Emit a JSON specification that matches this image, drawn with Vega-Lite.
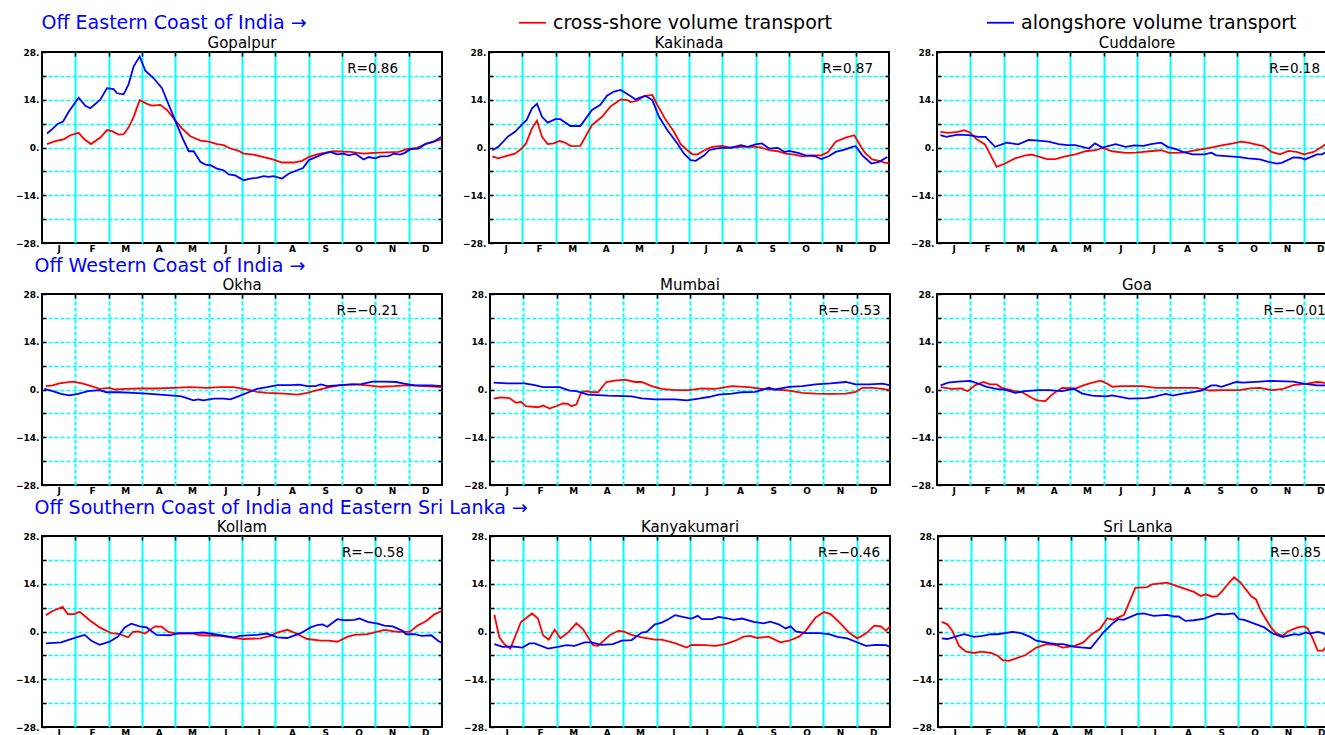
{
"$schema": "https://vega.github.io/schema/vega-lite/v6.json",
"padding": {"left": 14, "top": 8, "right": 0, "bottom": 0},
"background": "white",
"config": {
  "view": {"stroke": "black", "strokeWidth": 2},
  "title": {"font": "DejaVu Sans", "fontSize": 15, "fontWeight": "normal", "color": "black", "offset": -3},
  "axis": {"domain": false, "labelFont": "DejaVu Sans", "labelFontWeight": "bold", "labelFontSize": 9, "labelColor": "black", "tickColor": "black", "tickWidth": 1.5, "gridColor": "#00ffff", "labelOverlap": false, "labelFlush": false, "labelBound": false},
  "axisX": {"gridWidth": 2},
  "axisY": {"gridWidth": 1.5, "gridDash": [4, 2], "tickSize": -4, "labelPadding": 7},
  "axisTop": {"minExtent": 0, "maxExtent": 0},
  "axisRight": {"minExtent": 0, "maxExtent": 0},
  "legend": {"orient": "none", "legendX": 476, "legendY": -44, "direction": "horizontal", "columns": 2, "symbolType": "stroke", "symbolSize": 729, "symbolStrokeWidth": 3, "labelFont": "DejaVu Sans", "labelFontSize": 19, "labelColor": "black", "labelLimit": 400, "columnPadding": 150, "labelOffset": 6},
  "line": {"strokeWidth": 1.8}
},
"datasets": {
"gop": [
{"s":"c","m":0.15,"v":1.0},{"s":"c","m":0.35,"v":1.7},{"s":"c","m":0.55,"v":2.2},{"s":"c","m":0.65,"v":2.4},{"s":"c","m":0.85,"v":3.6},{"s":"c","m":1.1,"v":4.3},{"s":"c","m":1.27,"v":2.4},{"s":"c","m":1.47,"v":1.0},{"s":"c","m":1.75,"v":2.9},{"s":"c","m":1.95,"v":5.1},{"s":"c","m":2.1,"v":4.8},{"s":"c","m":2.3,"v":3.8},{"s":"c","m":2.45,"v":3.9},{"s":"c","m":2.6,"v":5.9},{"s":"c","m":2.75,"v":9.0},{"s":"c","m":2.93,"v":13.9},{"s":"c","m":3.15,"v":12.8},{"s":"c","m":3.3,"v":12.3},{"s":"c","m":3.55,"v":12.5},{"s":"c","m":3.75,"v":11.0},{"s":"c","m":3.95,"v":8.5},{"s":"c","m":4.2,"v":5.6},{"s":"c","m":4.45,"v":3.3},{"s":"c","m":4.75,"v":2.0},{"s":"c","m":5.0,"v":1.7},{"s":"c","m":5.25,"v":1.0},{"s":"c","m":5.45,"v":0.7},{"s":"c","m":5.65,"v":-0.3},{"s":"c","m":5.9,"v":-1.0},{"s":"c","m":6.05,"v":-1.8},{"s":"c","m":6.35,"v":-2.1},{"s":"c","m":6.65,"v":-2.8},{"s":"c","m":6.9,"v":-3.4},{"s":"c","m":7.2,"v":-4.4},{"s":"c","m":7.55,"v":-4.4},{"s":"c","m":7.8,"v":-3.9},{"s":"c","m":8.0,"v":-2.8},{"s":"c","m":8.25,"v":-2.0},{"s":"c","m":8.5,"v":-1.5},{"s":"c","m":8.75,"v":-1.1},{"s":"c","m":9.25,"v":-1.3},{"s":"c","m":9.65,"v":-1.8},{"s":"c","m":9.95,"v":-1.6},{"s":"c","m":10.35,"v":-1.4},{"s":"c","m":10.7,"v":-1.3},{"s":"c","m":10.95,"v":-0.5},{"s":"c","m":11.25,"v":-0.1},{"s":"c","m":11.55,"v":1.2},{"s":"c","m":11.75,"v":1.7},{"s":"c","m":11.97,"v":2.4},
{"s":"a","m":0.15,"v":4.1},{"s":"a","m":0.25,"v":4.9},{"s":"a","m":0.47,"v":6.9},{"s":"a","m":0.63,"v":7.6},{"s":"a","m":0.8,"v":10.5},{"s":"a","m":1.1,"v":14.6},{"s":"a","m":1.3,"v":12.2},{"s":"a","m":1.45,"v":11.5},{"s":"a","m":1.75,"v":14.0},{"s":"a","m":1.95,"v":17.4},{"s":"a","m":2.15,"v":17.1},{"s":"a","m":2.25,"v":15.9},{"s":"a","m":2.45,"v":15.6},{"s":"a","m":2.6,"v":18.6},{"s":"a","m":2.75,"v":23.8},{"s":"a","m":2.93,"v":26.7},{"s":"a","m":3.1,"v":22.5},{"s":"a","m":3.35,"v":20.3},{"s":"a","m":3.6,"v":17.4},{"s":"a","m":3.95,"v":9.0},{"s":"a","m":4.2,"v":3.1},{"s":"a","m":4.4,"v":-1.1},{"s":"a","m":4.55,"v":-1.1},{"s":"a","m":4.75,"v":-4.2},{"s":"a","m":4.9,"v":-5.0},{"s":"a","m":5.05,"v":-5.2},{"s":"a","m":5.25,"v":-6.2},{"s":"a","m":5.45,"v":-6.7},{"s":"a","m":5.6,"v":-7.9},{"s":"a","m":5.8,"v":-8.2},{"s":"a","m":6.05,"v":-9.6},{"s":"a","m":6.25,"v":-9.1},{"s":"a","m":6.45,"v":-8.9},{"s":"a","m":6.65,"v":-8.4},{"s":"a","m":6.8,"v":-8.6},{"s":"a","m":6.95,"v":-8.4},{"s":"a","m":7.2,"v":-9.1},{"s":"a","m":7.4,"v":-7.7},{"s":"a","m":7.6,"v":-6.9},{"s":"a","m":7.83,"v":-6.0},{"s":"a","m":8.0,"v":-3.7},{"s":"a","m":8.2,"v":-2.9},{"s":"a","m":8.4,"v":-2.0},{"s":"a","m":8.65,"v":-1.3},{"s":"a","m":8.85,"v":-2.0},{"s":"a","m":9.05,"v":-1.8},{"s":"a","m":9.2,"v":-2.3},{"s":"a","m":9.4,"v":-1.8},{"s":"a","m":9.65,"v":-3.5},{"s":"a","m":9.8,"v":-2.8},{"s":"a","m":10.0,"v":-3.2},{"s":"a","m":10.15,"v":-2.6},{"s":"a","m":10.4,"v":-2.5},{"s":"a","m":10.55,"v":-1.8},{"s":"a","m":10.75,"v":-2.1},{"s":"a","m":10.9,"v":-1.5},{"s":"a","m":11.05,"v":-0.5},{"s":"a","m":11.3,"v":-0.3},{"s":"a","m":11.5,"v":1.0},{"s":"a","m":11.75,"v":1.7},{"s":"a","m":11.97,"v":3.1}
],
"kak": [
{"s":"c","m":0.1,"v":-2.6},{"s":"c","m":0.28,"v":-3.2},{"s":"c","m":0.48,"v":-2.6},{"s":"c","m":0.78,"v":-1.8},{"s":"c","m":0.98,"v":-0.3},{"s":"c","m":1.11,"v":1.2},{"s":"c","m":1.29,"v":5.6},{"s":"c","m":1.44,"v":7.9},{"s":"c","m":1.59,"v":3.1},{"s":"c","m":1.76,"v":1.0},{"s":"c","m":1.94,"v":1.2},{"s":"c","m":2.12,"v":1.9},{"s":"c","m":2.29,"v":1.4},{"s":"c","m":2.46,"v":0.4},{"s":"c","m":2.74,"v":0.5},{"s":"c","m":2.89,"v":3.1},{"s":"c","m":3.09,"v":6.6},{"s":"c","m":3.39,"v":9.0},{"s":"c","m":3.64,"v":12.0},{"s":"c","m":3.95,"v":14.1},{"s":"c","m":4.15,"v":13.9},{"s":"c","m":4.25,"v":13.3},{"s":"c","m":4.45,"v":13.7},{"s":"c","m":4.65,"v":15.1},{"s":"c","m":4.9,"v":15.4},{"s":"c","m":5.05,"v":12.5},{"s":"c","m":5.3,"v":8.1},{"s":"c","m":5.55,"v":4.6},{"s":"c","m":5.75,"v":1.0},{"s":"c","m":5.95,"v":-0.8},{"s":"c","m":6.1,"v":-2.0},{"s":"c","m":6.26,"v":-2.0},{"s":"c","m":6.5,"v":-0.6},{"s":"c","m":6.7,"v":0.2},{"s":"c","m":7.0,"v":0.5},{"s":"c","m":7.26,"v":-0.1},{"s":"c","m":7.56,"v":0.2},{"s":"c","m":7.96,"v":0.2},{"s":"c","m":8.16,"v":0.0},{"s":"c","m":8.4,"v":-0.8},{"s":"c","m":8.66,"v":-1.1},{"s":"c","m":8.9,"v":-1.8},{"s":"c","m":9.17,"v":-2.1},{"s":"c","m":9.4,"v":-2.6},{"s":"c","m":9.67,"v":-2.3},{"s":"c","m":9.97,"v":-2.3},{"s":"c","m":10.17,"v":-1.3},{"s":"c","m":10.4,"v":1.7},{"s":"c","m":10.7,"v":2.9},{"s":"c","m":10.96,"v":3.6},{"s":"c","m":11.16,"v":0.2},{"s":"c","m":11.3,"v":-1.8},{"s":"c","m":11.5,"v":-3.5},{"s":"c","m":11.7,"v":-3.9},{"s":"c","m":11.9,"v":-4.5},{"s":"c","m":12.0,"v":-4.5},
{"s":"a","m":0.1,"v":-0.8},{"s":"a","m":0.28,"v":0.2},{"s":"a","m":0.58,"v":3.3},{"s":"a","m":0.78,"v":4.6},{"s":"a","m":0.98,"v":6.6},{"s":"a","m":1.13,"v":8.1},{"s":"a","m":1.29,"v":11.5},{"s":"a","m":1.44,"v":12.8},{"s":"a","m":1.59,"v":9.0},{"s":"a","m":1.76,"v":7.3},{"s":"a","m":1.99,"v":8.3},{"s":"a","m":2.14,"v":8.3},{"s":"a","m":2.44,"v":6.3},{"s":"a","m":2.74,"v":6.3},{"s":"a","m":3.09,"v":11.0},{"s":"a","m":3.34,"v":12.5},{"s":"a","m":3.54,"v":15.2},{"s":"a","m":3.75,"v":16.4},{"s":"a","m":3.95,"v":16.9},{"s":"a","m":4.15,"v":15.7},{"s":"a","m":4.4,"v":14.1},{"s":"a","m":4.55,"v":14.7},{"s":"a","m":4.7,"v":15.1},{"s":"a","m":4.9,"v":13.9},{"s":"a","m":5.1,"v":9.0},{"s":"a","m":5.35,"v":5.1},{"s":"a","m":5.65,"v":1.2},{"s":"a","m":5.85,"v":-1.8},{"s":"a","m":6.05,"v":-3.7},{"s":"a","m":6.2,"v":-3.9},{"s":"a","m":6.46,"v":-2.3},{"s":"a","m":6.6,"v":-0.8},{"s":"a","m":6.8,"v":-0.3},{"s":"a","m":7.0,"v":-0.1},{"s":"a","m":7.2,"v":-0.1},{"s":"a","m":7.36,"v":0.2},{"s":"a","m":7.56,"v":0.7},{"s":"a","m":7.76,"v":0.2},{"s":"a","m":8.0,"v":0.9},{"s":"a","m":8.19,"v":1.2},{"s":"a","m":8.4,"v":-0.3},{"s":"a","m":8.66,"v":-0.1},{"s":"a","m":8.87,"v":-1.3},{"s":"a","m":9.0,"v":-1.0},{"s":"a","m":9.27,"v":-1.6},{"s":"a","m":9.5,"v":-2.3},{"s":"a","m":9.77,"v":-2.5},{"s":"a","m":9.97,"v":-3.4},{"s":"a","m":10.2,"v":-2.5},{"s":"a","m":10.4,"v":-1.3},{"s":"a","m":10.67,"v":-0.6},{"s":"a","m":10.9,"v":0.2},{"s":"a","m":11.0,"v":0.4},{"s":"a","m":11.2,"v":-2.3},{"s":"a","m":11.47,"v":-4.7},{"s":"a","m":11.7,"v":-4.2},{"s":"a","m":11.95,"v":-2.8}
],
"cud": [
{"s":"c","m":0.1,"v":4.6},{"s":"c","m":0.33,"v":4.3},{"s":"c","m":0.63,"v":4.6},{"s":"c","m":0.81,"v":5.1},{"s":"c","m":0.99,"v":4.4},{"s":"c","m":1.19,"v":2.4},{"s":"c","m":1.44,"v":0.9},{"s":"c","m":1.79,"v":-5.7},{"s":"c","m":2.04,"v":-4.7},{"s":"c","m":2.34,"v":-3.2},{"s":"c","m":2.65,"v":-2.3},{"s":"c","m":2.85,"v":-2.1},{"s":"c","m":3.1,"v":-2.8},{"s":"c","m":3.3,"v":-3.4},{"s":"c","m":3.55,"v":-3.4},{"s":"c","m":3.85,"v":-2.6},{"s":"c","m":4.15,"v":-2.0},{"s":"c","m":4.46,"v":-1.1},{"s":"c","m":4.76,"v":-0.8},{"s":"c","m":4.96,"v":-0.1},{"s":"c","m":5.26,"v":-1.1},{"s":"c","m":5.66,"v":-1.6},{"s":"c","m":5.97,"v":-1.5},{"s":"c","m":6.37,"v":-1.1},{"s":"c","m":6.72,"v":-0.8},{"s":"c","m":6.97,"v":-1.6},{"s":"c","m":7.37,"v":-1.5},{"s":"c","m":7.78,"v":-0.8},{"s":"c","m":8.18,"v":-0.1},{"s":"c","m":8.58,"v":0.7},{"s":"c","m":8.88,"v":1.2},{"s":"c","m":9.13,"v":1.7},{"s":"c","m":9.33,"v":1.4},{"s":"c","m":9.79,"v":0.4},{"s":"c","m":10.04,"v":-1.3},{"s":"c","m":10.29,"v":-2.0},{"s":"c","m":10.54,"v":-1.0},{"s":"c","m":10.79,"v":-1.3},{"s":"c","m":11.01,"v":-2.0},{"s":"c","m":11.3,"v":-1.3},{"s":"c","m":11.55,"v":0.2},{"s":"c","m":11.75,"v":1.7},{"s":"c","m":12.0,"v":3.2},
{"s":"a","m":0.1,"v":3.6},{"s":"a","m":0.28,"v":3.1},{"s":"a","m":0.63,"v":3.8},{"s":"a","m":0.96,"v":3.6},{"s":"a","m":1.24,"v":3.1},{"s":"a","m":1.46,"v":3.1},{"s":"a","m":1.74,"v":0.2},{"s":"a","m":2.09,"v":1.4},{"s":"a","m":2.44,"v":0.9},{"s":"a","m":2.75,"v":2.2},{"s":"a","m":3.05,"v":2.0},{"s":"a","m":3.35,"v":1.7},{"s":"a","m":3.65,"v":1.0},{"s":"a","m":3.9,"v":0.7},{"s":"a","m":4.15,"v":0.7},{"s":"a","m":4.56,"v":-0.3},{"s":"a","m":4.74,"v":1.2},{"s":"a","m":4.96,"v":0.0},{"s":"a","m":5.36,"v":1.0},{"s":"a","m":5.66,"v":0.2},{"s":"a","m":5.92,"v":0.6},{"s":"a","m":6.2,"v":0.5},{"s":"a","m":6.42,"v":1.0},{"s":"a","m":6.72,"v":1.4},{"s":"a","m":6.92,"v":0.2},{"s":"a","m":7.17,"v":-0.5},{"s":"a","m":7.37,"v":-1.3},{"s":"a","m":7.67,"v":-2.0},{"s":"a","m":8.03,"v":-2.0},{"s":"a","m":8.23,"v":-1.5},{"s":"a","m":8.38,"v":-2.3},{"s":"a","m":8.78,"v":-2.6},{"s":"a","m":9.08,"v":-2.8},{"s":"a","m":9.33,"v":-3.2},{"s":"a","m":9.69,"v":-3.5},{"s":"a","m":9.94,"v":-4.2},{"s":"a","m":10.19,"v":-4.7},{"s":"a","m":10.34,"v":-4.5},{"s":"a","m":10.69,"v":-2.9},{"s":"a","m":10.89,"v":-3.0},{"s":"a","m":11.04,"v":-3.5},{"s":"a","m":11.4,"v":-2.0},{"s":"a","m":11.55,"v":-2.0},{"s":"a","m":11.75,"v":-0.8},{"s":"a","m":12.0,"v":0.2}
],
"okh": [
{"s":"c","m":0.12,"v":1.0},{"s":"c","m":0.32,"v":1.2},{"s":"c","m":0.52,"v":1.8},{"s":"c","m":0.92,"v":2.3},{"s":"c","m":1.23,"v":1.7},{"s":"c","m":1.48,"v":1.0},{"s":"c","m":1.73,"v":0.2},{"s":"c","m":2.03,"v":0.5},{"s":"c","m":2.18,"v":0.0},{"s":"c","m":2.53,"v":0.2},{"s":"c","m":2.93,"v":0.3},{"s":"c","m":3.44,"v":0.3},{"s":"c","m":3.94,"v":0.5},{"s":"c","m":4.44,"v":0.7},{"s":"c","m":4.94,"v":0.5},{"s":"c","m":5.35,"v":0.7},{"s":"c","m":5.75,"v":0.7},{"s":"c","m":6.15,"v":0.0},{"s":"c","m":6.45,"v":-0.7},{"s":"c","m":6.75,"v":-1.0},{"s":"c","m":7.26,"v":-1.2},{"s":"c","m":7.66,"v":-1.5},{"s":"c","m":7.96,"v":-1.0},{"s":"c","m":8.26,"v":-0.2},{"s":"c","m":8.66,"v":0.8},{"s":"c","m":8.96,"v":1.3},{"s":"c","m":9.37,"v":1.5},{"s":"c","m":9.77,"v":1.2},{"s":"c","m":10.17,"v":0.8},{"s":"c","m":10.57,"v":1.0},{"s":"c","m":10.97,"v":1.3},{"s":"c","m":11.48,"v":1.0},{"s":"c","m":12.0,"v":0.7},
{"s":"a","m":0.07,"v":0.2},{"s":"a","m":0.32,"v":-0.5},{"s":"a","m":0.57,"v":-1.3},{"s":"a","m":0.82,"v":-1.7},{"s":"a","m":1.08,"v":-1.3},{"s":"a","m":1.38,"v":-0.5},{"s":"a","m":1.73,"v":-0.2},{"s":"a","m":1.93,"v":-0.8},{"s":"a","m":2.33,"v":-0.8},{"s":"a","m":2.73,"v":-1.0},{"s":"a","m":3.14,"v":-1.2},{"s":"a","m":3.54,"v":-1.5},{"s":"a","m":3.94,"v":-1.8},{"s":"a","m":4.19,"v":-2.0},{"s":"a","m":4.54,"v":-3.2},{"s":"a","m":4.69,"v":-2.9},{"s":"a","m":4.84,"v":-3.2},{"s":"a","m":5.15,"v":-2.7},{"s":"a","m":5.45,"v":-2.7},{"s":"a","m":5.65,"v":-2.9},{"s":"a","m":5.95,"v":-1.8},{"s":"a","m":6.2,"v":-0.8},{"s":"a","m":6.45,"v":0.2},{"s":"a","m":6.75,"v":0.7},{"s":"a","m":7.06,"v":1.3},{"s":"a","m":7.46,"v":1.3},{"s":"a","m":7.71,"v":1.4},{"s":"a","m":7.96,"v":1.0},{"s":"a","m":8.21,"v":1.0},{"s":"a","m":8.36,"v":1.5},{"s":"a","m":8.56,"v":1.0},{"s":"a","m":8.86,"v":1.2},{"s":"a","m":9.27,"v":1.5},{"s":"a","m":9.57,"v":1.6},{"s":"a","m":9.92,"v":2.3},{"s":"a","m":10.27,"v":2.3},{"s":"a","m":10.62,"v":2.2},{"s":"a","m":10.87,"v":1.7},{"s":"a","m":11.18,"v":1.2},{"s":"a","m":11.68,"v":1.2},{"s":"a","m":12.0,"v":1.0}
],
"mum": [
{"s":"c","m":0.11,"v":-2.7},{"s":"c","m":0.33,"v":-2.3},{"s":"c","m":0.58,"v":-2.5},{"s":"c","m":0.78,"v":-3.9},{"s":"c","m":0.93,"v":-3.6},{"s":"c","m":1.08,"v":-4.9},{"s":"c","m":1.44,"v":-5.2},{"s":"c","m":1.59,"v":-4.7},{"s":"c","m":1.79,"v":-5.6},{"s":"c","m":2.04,"v":-4.7},{"s":"c","m":2.19,"v":-4.1},{"s":"c","m":2.34,"v":-4.2},{"s":"c","m":2.44,"v":-4.9},{"s":"c","m":2.59,"v":-4.4},{"s":"c","m":2.74,"v":-0.8},{"s":"c","m":2.89,"v":-0.5},{"s":"c","m":3.04,"v":-0.8},{"s":"c","m":3.24,"v":-0.8},{"s":"c","m":3.49,"v":2.2},{"s":"c","m":3.74,"v":2.6},{"s":"c","m":4.05,"v":2.9},{"s":"c","m":4.35,"v":2.2},{"s":"c","m":4.55,"v":2.2},{"s":"c","m":4.85,"v":1.0},{"s":"c","m":5.15,"v":0.2},{"s":"c","m":5.55,"v":-0.2},{"s":"c","m":5.95,"v":-0.2},{"s":"c","m":6.36,"v":0.3},{"s":"c","m":6.76,"v":0.2},{"s":"c","m":7.26,"v":1.0},{"s":"c","m":7.76,"v":0.7},{"s":"c","m":8.16,"v":0.2},{"s":"c","m":8.56,"v":0.0},{"s":"c","m":8.97,"v":-0.3},{"s":"c","m":9.37,"v":-1.0},{"s":"c","m":9.77,"v":-1.2},{"s":"c","m":10.22,"v":-1.3},{"s":"c","m":10.67,"v":-1.2},{"s":"c","m":10.97,"v":-0.7},{"s":"c","m":11.17,"v":0.5},{"s":"c","m":11.48,"v":0.5},{"s":"c","m":11.78,"v":0.2},{"s":"c","m":11.98,"v":-0.2},
{"s":"a","m":0.11,"v":2.0},{"s":"a","m":0.53,"v":1.8},{"s":"a","m":1.03,"v":1.8},{"s":"a","m":1.34,"v":1.3},{"s":"a","m":1.59,"v":0.7},{"s":"a","m":2.09,"v":0.7},{"s":"a","m":2.39,"v":-0.3},{"s":"a","m":2.59,"v":-0.5},{"s":"a","m":2.94,"v":-1.5},{"s":"a","m":3.54,"v":-1.8},{"s":"a","m":4.25,"v":-2.0},{"s":"a","m":4.55,"v":-2.6},{"s":"a","m":4.95,"v":-2.9},{"s":"a","m":5.55,"v":-2.9},{"s":"a","m":5.9,"v":-3.2},{"s":"a","m":6.26,"v":-2.7},{"s":"a","m":6.56,"v":-2.2},{"s":"a","m":6.86,"v":-1.5},{"s":"a","m":7.26,"v":-1.2},{"s":"a","m":7.56,"v":-0.8},{"s":"a","m":7.96,"v":-0.7},{"s":"a","m":8.36,"v":0.5},{"s":"a","m":8.56,"v":0.0},{"s":"a","m":8.97,"v":0.8},{"s":"a","m":9.37,"v":1.0},{"s":"a","m":9.77,"v":1.5},{"s":"a","m":10.22,"v":1.8},{"s":"a","m":10.67,"v":2.2},{"s":"a","m":10.97,"v":1.5},{"s":"a","m":11.38,"v":1.5},{"s":"a","m":11.78,"v":1.7},{"s":"a","m":11.98,"v":1.3}
],
"goa": [
{"s":"c","m":0.11,"v":0.7},{"s":"c","m":0.43,"v":0.2},{"s":"c","m":0.73,"v":0.3},{"s":"c","m":0.92,"v":-0.5},{"s":"c","m":1.14,"v":1.2},{"s":"c","m":1.39,"v":2.2},{"s":"c","m":1.59,"v":1.5},{"s":"c","m":1.79,"v":1.5},{"s":"c","m":1.94,"v":0.5},{"s":"c","m":2.34,"v":-0.5},{"s":"c","m":2.55,"v":-0.8},{"s":"c","m":2.85,"v":-2.5},{"s":"c","m":3.0,"v":-3.2},{"s":"c","m":3.25,"v":-3.4},{"s":"c","m":3.45,"v":-1.5},{"s":"c","m":3.75,"v":0.5},{"s":"c","m":4.15,"v":0.3},{"s":"c","m":4.41,"v":1.3},{"s":"c","m":4.66,"v":2.0},{"s":"c","m":4.91,"v":2.6},{"s":"c","m":5.11,"v":1.7},{"s":"c","m":5.26,"v":0.8},{"s":"c","m":5.56,"v":1.0},{"s":"c","m":6.17,"v":1.0},{"s":"c","m":6.57,"v":0.5},{"s":"c","m":7.17,"v":0.5},{"s":"c","m":7.78,"v":0.5},{"s":"c","m":8.18,"v":-0.3},{"s":"c","m":8.58,"v":-0.2},{"s":"c","m":9.08,"v":-0.2},{"s":"c","m":9.39,"v":0.3},{"s":"c","m":9.69,"v":0.5},{"s":"c","m":10.04,"v":-0.2},{"s":"c","m":10.39,"v":0.2},{"s":"c","m":10.69,"v":1.3},{"s":"c","m":11.1,"v":1.7},{"s":"c","m":11.4,"v":2.2},{"s":"c","m":11.6,"v":2.0},{"s":"c","m":11.75,"v":1.2},
{"s":"a","m":0.11,"v":1.2},{"s":"a","m":0.33,"v":2.0},{"s":"a","m":0.63,"v":2.3},{"s":"a","m":0.99,"v":2.5},{"s":"a","m":1.24,"v":1.7},{"s":"a","m":1.49,"v":0.8},{"s":"a","m":1.79,"v":0.2},{"s":"a","m":2.09,"v":-0.2},{"s":"a","m":2.34,"v":-1.0},{"s":"a","m":2.65,"v":-0.5},{"s":"a","m":3.05,"v":-0.2},{"s":"a","m":3.35,"v":-0.2},{"s":"a","m":3.75,"v":-0.5},{"s":"a","m":4.1,"v":0.2},{"s":"a","m":4.36,"v":-1.2},{"s":"a","m":4.66,"v":-1.8},{"s":"a","m":5.06,"v":-2.0},{"s":"a","m":5.26,"v":-1.7},{"s":"a","m":5.76,"v":-2.7},{"s":"a","m":6.27,"v":-2.5},{"s":"a","m":6.47,"v":-2.2},{"s":"a","m":6.67,"v":-1.7},{"s":"a","m":6.87,"v":-1.3},{"s":"a","m":7.07,"v":-1.8},{"s":"a","m":7.37,"v":-1.2},{"s":"a","m":7.68,"v":-0.8},{"s":"a","m":7.93,"v":-0.3},{"s":"a","m":8.23,"v":1.2},{"s":"a","m":8.38,"v":1.2},{"s":"a","m":8.53,"v":0.8},{"s":"a","m":8.98,"v":2.2},{"s":"a","m":9.18,"v":2.0},{"s":"a","m":9.69,"v":2.3},{"s":"a","m":9.99,"v":2.5},{"s":"a","m":10.69,"v":2.3},{"s":"a","m":10.99,"v":1.7},{"s":"a","m":11.4,"v":1.2},{"s":"a","m":11.75,"v":1.2}
],
"kol": [
{"s":"c","m":0.12,"v":4.8},{"s":"c","m":0.32,"v":6.0},{"s":"c","m":0.62,"v":7.2},{"s":"c","m":0.77,"v":5.1},{"s":"c","m":0.97,"v":5.1},{"s":"c","m":1.13,"v":5.8},{"s":"c","m":1.43,"v":3.3},{"s":"c","m":1.73,"v":1.2},{"s":"c","m":2.08,"v":-0.5},{"s":"c","m":2.33,"v":-0.8},{"s":"c","m":2.58,"v":-1.7},{"s":"c","m":2.73,"v":-0.1},{"s":"c","m":2.88,"v":0.0},{"s":"c","m":3.09,"v":-0.6},{"s":"c","m":3.39,"v":1.5},{"s":"c","m":3.59,"v":1.4},{"s":"c","m":3.79,"v":-0.1},{"s":"c","m":4.04,"v":-0.6},{"s":"c","m":4.54,"v":-0.6},{"s":"c","m":4.74,"v":-1.1},{"s":"c","m":5.35,"v":-1.3},{"s":"c","m":5.75,"v":-1.9},{"s":"c","m":6.05,"v":-2.2},{"s":"c","m":6.55,"v":-2.0},{"s":"c","m":6.85,"v":-1.3},{"s":"c","m":7.06,"v":-0.3},{"s":"c","m":7.36,"v":0.5},{"s":"c","m":7.56,"v":-0.3},{"s":"c","m":7.96,"v":-2.2},{"s":"c","m":8.36,"v":-2.7},{"s":"c","m":8.61,"v":-2.7},{"s":"c","m":8.86,"v":-3.0},{"s":"c","m":9.17,"v":-1.5},{"s":"c","m":9.37,"v":-1.0},{"s":"c","m":9.77,"v":-0.8},{"s":"c","m":10.27,"v":0.5},{"s":"c","m":10.67,"v":-0.1},{"s":"c","m":11.03,"v":-0.1},{"s":"c","m":11.28,"v":1.8},{"s":"c","m":11.53,"v":3.1},{"s":"c","m":11.78,"v":5.1},{"s":"c","m":12.0,"v":6.0},
{"s":"a","m":0.12,"v":-3.5},{"s":"a","m":0.57,"v":-3.2},{"s":"a","m":1.03,"v":-1.7},{"s":"a","m":1.28,"v":-1.0},{"s":"a","m":1.48,"v":-2.7},{"s":"a","m":1.73,"v":-3.9},{"s":"a","m":2.03,"v":-3.0},{"s":"a","m":2.28,"v":-1.5},{"s":"a","m":2.48,"v":1.2},{"s":"a","m":2.68,"v":2.3},{"s":"a","m":2.93,"v":1.5},{"s":"a","m":3.14,"v":1.2},{"s":"a","m":3.44,"v":-1.0},{"s":"a","m":3.84,"v":-1.1},{"s":"a","m":4.09,"v":-0.5},{"s":"a","m":4.54,"v":-0.5},{"s":"a","m":4.84,"v":-0.3},{"s":"a","m":5.35,"v":-1.1},{"s":"a","m":5.75,"v":-1.7},{"s":"a","m":5.95,"v":-1.3},{"s":"a","m":6.45,"v":-1.0},{"s":"a","m":6.75,"v":-0.6},{"s":"a","m":7.06,"v":-1.7},{"s":"a","m":7.36,"v":-1.9},{"s":"a","m":7.76,"v":-0.5},{"s":"a","m":8.06,"v":1.2},{"s":"a","m":8.26,"v":1.9},{"s":"a","m":8.41,"v":2.1},{"s":"a","m":8.56,"v":1.4},{"s":"a","m":8.86,"v":3.6},{"s":"a","m":9.07,"v":3.3},{"s":"a","m":9.37,"v":3.4},{"s":"a","m":9.52,"v":3.8},{"s":"a","m":9.77,"v":2.8},{"s":"a","m":10.07,"v":2.3},{"s":"a","m":10.27,"v":1.7},{"s":"a","m":10.52,"v":1.5},{"s":"a","m":10.82,"v":0.2},{"s":"a","m":10.92,"v":-0.8},{"s":"a","m":11.18,"v":-0.8},{"s":"a","m":11.38,"v":-1.3},{"s":"a","m":11.68,"v":-1.1},{"s":"a","m":11.88,"v":-2.7},{"s":"a","m":12.0,"v":-3.4}
],
"kan": [
{"s":"c","m":0.13,"v":4.9},{"s":"c","m":0.28,"v":-1.7},{"s":"c","m":0.43,"v":-3.7},{"s":"c","m":0.61,"v":-5.0},{"s":"c","m":0.93,"v":2.8},{"s":"c","m":1.26,"v":5.3},{"s":"c","m":1.44,"v":3.8},{"s":"c","m":1.59,"v":-1.1},{"s":"c","m":1.76,"v":-2.4},{"s":"c","m":1.94,"v":0.5},{"s":"c","m":2.11,"v":-2.0},{"s":"c","m":2.34,"v":-0.3},{"s":"c","m":2.59,"v":2.4},{"s":"c","m":2.79,"v":0.7},{"s":"c","m":3.09,"v":-4.0},{"s":"c","m":3.24,"v":-4.2},{"s":"c","m":3.59,"v":-1.1},{"s":"c","m":3.85,"v":0.2},{"s":"c","m":4.0,"v":0.0},{"s":"c","m":4.25,"v":-1.0},{"s":"c","m":4.55,"v":-1.7},{"s":"c","m":4.95,"v":-2.4},{"s":"c","m":5.15,"v":-2.4},{"s":"c","m":5.55,"v":-3.4},{"s":"c","m":5.9,"v":-4.7},{"s":"c","m":6.05,"v":-3.9},{"s":"c","m":6.46,"v":-4.0},{"s":"c","m":6.76,"v":-4.2},{"s":"c","m":7.06,"v":-3.7},{"s":"c","m":7.36,"v":-2.7},{"s":"c","m":7.61,"v":-1.5},{"s":"c","m":7.81,"v":-1.3},{"s":"c","m":8.01,"v":-1.9},{"s":"c","m":8.36,"v":-1.5},{"s":"c","m":8.71,"v":-3.2},{"s":"c","m":8.97,"v":-2.7},{"s":"c","m":9.27,"v":-1.5},{"s":"c","m":9.47,"v":0.2},{"s":"c","m":9.77,"v":4.1},{"s":"c","m":10.02,"v":5.7},{"s":"c","m":10.22,"v":5.1},{"s":"c","m":10.52,"v":2.3},{"s":"c","m":10.77,"v":-0.3},{"s":"c","m":11.02,"v":-2.0},{"s":"c","m":11.28,"v":-0.6},{"s":"c","m":11.53,"v":1.7},{"s":"c","m":11.73,"v":1.5},{"s":"c","m":11.88,"v":0.2},{"s":"c","m":12.0,"v":1.5},
{"s":"a","m":0.13,"v":-3.7},{"s":"a","m":0.38,"v":-4.5},{"s":"a","m":0.68,"v":-4.4},{"s":"a","m":0.98,"v":-4.7},{"s":"a","m":1.18,"v":-3.5},{"s":"a","m":1.34,"v":-3.5},{"s":"a","m":1.74,"v":-5.0},{"s":"a","m":2.04,"v":-4.5},{"s":"a","m":2.29,"v":-4.0},{"s":"a","m":2.54,"v":-4.2},{"s":"a","m":2.84,"v":-3.2},{"s":"a","m":3.04,"v":-3.2},{"s":"a","m":3.34,"v":-3.9},{"s":"a","m":3.69,"v":-3.7},{"s":"a","m":3.95,"v":-2.7},{"s":"a","m":4.25,"v":-2.5},{"s":"a","m":4.55,"v":-0.3},{"s":"a","m":4.7,"v":-0.1},{"s":"a","m":4.95,"v":2.1},{"s":"a","m":5.15,"v":2.6},{"s":"a","m":5.35,"v":3.6},{"s":"a","m":5.55,"v":4.8},{"s":"a","m":5.95,"v":3.9},{"s":"a","m":6.05,"v":3.8},{"s":"a","m":6.23,"v":4.6},{"s":"a","m":6.36,"v":3.6},{"s":"a","m":6.66,"v":3.6},{"s":"a","m":6.86,"v":4.3},{"s":"a","m":7.16,"v":3.8},{"s":"a","m":7.31,"v":3.4},{"s":"a","m":7.56,"v":3.8},{"s":"a","m":7.91,"v":2.8},{"s":"a","m":8.21,"v":2.4},{"s":"a","m":8.41,"v":2.9},{"s":"a","m":8.66,"v":2.1},{"s":"a","m":8.87,"v":0.9},{"s":"a","m":9.02,"v":1.5},{"s":"a","m":9.17,"v":0.0},{"s":"a","m":9.47,"v":-0.5},{"s":"a","m":9.87,"v":-0.5},{"s":"a","m":10.17,"v":-0.8},{"s":"a","m":10.42,"v":-1.6},{"s":"a","m":10.72,"v":-2.0},{"s":"a","m":10.97,"v":-3.0},{"s":"a","m":11.28,"v":-4.2},{"s":"a","m":11.58,"v":-3.9},{"s":"a","m":11.88,"v":-4.0},{"s":"a","m":12.0,"v":-4.5}
],
"sri": [
{"s":"c","m":0.11,"v":2.8},{"s":"c","m":0.28,"v":2.1},{"s":"c","m":0.43,"v":0.2},{"s":"c","m":0.63,"v":-4.2},{"s":"c","m":0.84,"v":-5.9},{"s":"c","m":1.09,"v":-6.3},{"s":"c","m":1.29,"v":-5.9},{"s":"c","m":1.59,"v":-6.3},{"s":"c","m":1.79,"v":-7.1},{"s":"c","m":1.94,"v":-8.4},{"s":"c","m":2.12,"v":-8.6},{"s":"c","m":2.34,"v":-7.9},{"s":"c","m":2.63,"v":-6.9},{"s":"c","m":2.95,"v":-4.7},{"s":"c","m":3.25,"v":-3.7},{"s":"c","m":3.55,"v":-4.0},{"s":"c","m":3.75,"v":-4.7},{"s":"c","m":4.1,"v":-4.2},{"s":"c","m":4.36,"v":-3.2},{"s":"c","m":4.61,"v":-0.8},{"s":"c","m":4.86,"v":0.7},{"s":"c","m":5.08,"v":3.9},{"s":"c","m":5.26,"v":3.4},{"s":"c","m":5.58,"v":4.9},{"s":"c","m":5.92,"v":12.8},{"s":"c","m":6.27,"v":13.0},{"s":"c","m":6.42,"v":13.8},{"s":"c","m":6.87,"v":14.3},{"s":"c","m":7.17,"v":13.3},{"s":"c","m":7.68,"v":11.6},{"s":"c","m":7.88,"v":10.4},{"s":"c","m":8.03,"v":10.9},{"s":"c","m":8.23,"v":10.2},{"s":"c","m":8.38,"v":10.4},{"s":"c","m":8.53,"v":11.9},{"s":"c","m":8.73,"v":14.3},{"s":"c","m":8.88,"v":15.9},{"s":"c","m":9.08,"v":14.3},{"s":"c","m":9.39,"v":10.4},{"s":"c","m":9.54,"v":9.4},{"s":"c","m":9.69,"v":6.0},{"s":"c","m":9.99,"v":1.2},{"s":"c","m":10.14,"v":-0.5},{"s":"c","m":10.34,"v":-1.3},{"s":"c","m":10.49,"v":0.0},{"s":"c","m":10.79,"v":1.2},{"s":"c","m":10.99,"v":1.5},{"s":"c","m":11.09,"v":0.9},{"s":"c","m":11.24,"v":-2.0},{"s":"c","m":11.39,"v":-5.6},{"s":"c","m":11.55,"v":-5.6},{"s":"c","m":11.75,"v":-3.0},
{"s":"a","m":0.11,"v":-2.0},{"s":"a","m":0.28,"v":-2.2},{"s":"a","m":0.53,"v":-1.5},{"s":"a","m":0.78,"v":-0.8},{"s":"a","m":1.09,"v":-1.6},{"s":"a","m":1.34,"v":-1.3},{"s":"a","m":1.59,"v":-0.8},{"s":"a","m":1.79,"v":-0.8},{"s":"a","m":2.24,"v":-0.1},{"s":"a","m":2.49,"v":-0.5},{"s":"a","m":2.75,"v":-1.5},{"s":"a","m":2.95,"v":-2.7},{"s":"a","m":3.35,"v":-3.4},{"s":"a","m":3.55,"v":-3.7},{"s":"a","m":3.75,"v":-3.7},{"s":"a","m":4.1,"v":-4.5},{"s":"a","m":4.36,"v":-4.7},{"s":"a","m":4.58,"v":-4.9},{"s":"a","m":4.96,"v":-0.3},{"s":"a","m":5.26,"v":2.6},{"s":"a","m":5.41,"v":3.6},{"s":"a","m":5.56,"v":3.4},{"s":"a","m":5.97,"v":5.1},{"s":"a","m":6.17,"v":5.3},{"s":"a","m":6.47,"v":4.6},{"s":"a","m":6.87,"v":4.9},{"s":"a","m":7.07,"v":4.4},{"s":"a","m":7.22,"v":4.4},{"s":"a","m":7.42,"v":3.1},{"s":"a","m":7.68,"v":3.3},{"s":"a","m":7.98,"v":3.8},{"s":"a","m":8.38,"v":5.2},{"s":"a","m":8.58,"v":5.0},{"s":"a","m":8.88,"v":5.3},{"s":"a","m":9.03,"v":3.6},{"s":"a","m":9.19,"v":3.4},{"s":"a","m":9.49,"v":2.3},{"s":"a","m":9.79,"v":1.2},{"s":"a","m":10.04,"v":-0.6},{"s":"a","m":10.34,"v":-1.6},{"s":"a","m":10.69,"v":-0.8},{"s":"a","m":10.84,"v":-1.0},{"s":"a","m":11.04,"v":-0.3},{"s":"a","m":11.14,"v":-0.6},{"s":"a","m":11.4,"v":-0.1},{"s":"a","m":11.55,"v":-0.5},{"s":"a","m":11.75,"v":-1.7}
]
},
"spacing": 3,
"vconcat": [
{"title": {"text": "Off Eastern Coast of India →", "anchor": "start", "color": "#0000ff", "fontSize": 19, "offset": 2, "dx": 27},
 "spacing": 15,
 "hconcat": [
  {"width": 400, "height": 191, "title": "Gopalpur",
   "layer": [
    {"data": {"name": "gop"}, "mark": {"type": "line"},
     "encoding": {
      "x": {"field": "m", "type": "quantitative", "scale": {"domain": [0, 12], "nice": false, "zero": false}, "axis": {"title": null, "grid": false, "ticks": false, "labelPadding": 1, "labelOverlap": false, "values": [0.5,1.5,2.5,3.5,4.5,5.5,6.5,7.5,8.5,9.5,10.5,11.5], "labelExpr": "['J','F','M','A','M','J','J','A','S','O','N','D'][floor(datum.value)]"}},
      "y": {"field": "v", "type": "quantitative", "scale": {"domain": [-28, 28], "nice": false}, "axis": {"title": null, "values": [-28,-21,-14,-7,0,7,14,21,28], "labelExpr": "datum.value % 14 ? '' : (datum.value < 0 ? '−' + (-datum.value) : datum.value) + '.'", "gridOpacity": {"condition": {"test": "abs(datum.value) == 28", "value": 0}, "value": 1}}},
      "color": {"field": "s", "type": "nominal", "scale": {"domain": ["c", "a"], "range": ["#ff0000", "#0000ff"]}, "legend": {"title": null, "labelExpr": "datum.value == 'c' ? 'cross-shore volume transport' : 'alongshore volume transport'"}}
     }},
    {"data": {"values": [{"r": "R=0.86"}]}, "mark": {"type": "text", "align": "right", "baseline": "middle", "font": "DejaVu Sans", "fontSize": 13.5, "color": "black"},
     "encoding": {"x": {"datum": 10.68, "type": "quantitative", "axis": {"orient": "top", "title": null, "values": [1,2,3,4,5,6,7,8,9,10,11], "labels": false, "grid": true, "tickSize": -4}}, "y": {"datum": 23, "type": "quantitative", "axis": {"orient": "right", "title": null, "values": [-21,-14,-7,0,7,14,21], "labels": false, "grid": false}}, "text": {"field": "r"}}}
   ],
   "resolve": {"axis": {"x": "independent", "y": "independent"}}
  },
  {"width": 400, "height": 191, "title": "Kakinada",
   "layer": [
    {"data": {"name": "kak"}, "mark": {"type": "line"},
     "encoding": {
      "x": {"field": "m", "type": "quantitative", "scale": {"domain": [0, 12], "nice": false, "zero": false}, "axis": {"title": null, "grid": false, "ticks": false, "labelPadding": 1, "labelOverlap": false, "values": [0.5,1.5,2.5,3.5,4.5,5.5,6.5,7.5,8.5,9.5,10.5,11.5], "labelExpr": "['J','F','M','A','M','J','J','A','S','O','N','D'][floor(datum.value)]"}},
      "y": {"field": "v", "type": "quantitative", "scale": {"domain": [-28, 28], "nice": false}, "axis": {"title": null, "values": [-28,-21,-14,-7,0,7,14,21,28], "labelExpr": "datum.value % 14 ? '' : (datum.value < 0 ? '−' + (-datum.value) : datum.value) + '.'", "gridOpacity": {"condition": {"test": "abs(datum.value) == 28", "value": 0}, "value": 1}}},
      "color": {"field": "s", "type": "nominal", "scale": {"domain": ["c", "a"], "range": ["#ff0000", "#0000ff"]}, "legend": {"title": null, "labelExpr": "datum.value == 'c' ? 'cross-shore volume transport' : 'alongshore volume transport'"}}
     }},
    {"data": {"values": [{"r": "R=0.87"}]}, "mark": {"type": "text", "align": "right", "baseline": "middle", "font": "DejaVu Sans", "fontSize": 13.5, "color": "black"},
     "encoding": {"x": {"datum": 11.52, "type": "quantitative", "axis": {"orient": "top", "title": null, "values": [1,2,3,4,5,6,7,8,9,10,11], "labels": false, "grid": true, "tickSize": -4}}, "y": {"datum": 23, "type": "quantitative", "axis": {"orient": "right", "title": null, "values": [-21,-14,-7,0,7,14,21], "labels": false, "grid": false}}, "text": {"field": "r"}}}
   ],
   "resolve": {"axis": {"x": "independent", "y": "independent"}}
  },
  {"width": 400, "height": 191, "title": "Cuddalore",
   "layer": [
    {"data": {"name": "cud"}, "mark": {"type": "line"},
     "encoding": {
      "x": {"field": "m", "type": "quantitative", "scale": {"domain": [0, 12], "nice": false, "zero": false}, "axis": {"title": null, "grid": false, "ticks": false, "labelPadding": 1, "labelOverlap": false, "values": [0.5,1.5,2.5,3.5,4.5,5.5,6.5,7.5,8.5,9.5,10.5,11.5], "labelExpr": "['J','F','M','A','M','J','J','A','S','O','N','D'][floor(datum.value)]"}},
      "y": {"field": "v", "type": "quantitative", "scale": {"domain": [-28, 28], "nice": false}, "axis": {"title": null, "values": [-28,-21,-14,-7,0,7,14,21,28], "labelExpr": "datum.value % 14 ? '' : (datum.value < 0 ? '−' + (-datum.value) : datum.value) + '.'", "gridOpacity": {"condition": {"test": "abs(datum.value) == 28", "value": 0}, "value": 1}}},
      "color": {"field": "s", "type": "nominal", "scale": {"domain": ["c", "a"], "range": ["#ff0000", "#0000ff"]}, "legend": {"title": null, "labelExpr": "datum.value == 'c' ? 'cross-shore volume transport' : 'alongshore volume transport'"}}
     }},
    {"data": {"values": [{"r": "R=0.18"}]}, "mark": {"type": "text", "align": "right", "baseline": "middle", "font": "DejaVu Sans", "fontSize": 13.5, "color": "black"},
     "encoding": {"x": {"datum": 11.49, "type": "quantitative", "axis": {"orient": "top", "title": null, "values": [1,2,3,4,5,6,7,8,9,10,11], "labels": false, "grid": true, "tickSize": -4}}, "y": {"datum": 23, "type": "quantitative", "axis": {"orient": "right", "title": null, "values": [-21,-14,-7,0,7,14,21], "labels": false, "grid": false}}, "text": {"field": "r"}}}
   ],
   "resolve": {"axis": {"x": "independent", "y": "independent"}}
  }
 ]
},
{"title": {"text": "Off Western Coast of India →", "anchor": "start", "color": "#0000ff", "fontSize": 19, "offset": 1, "dx": 20},
 "spacing": 15,
 "hconcat": [
  {"width": 400, "height": 191, "title": "Okha",
   "layer": [
    {"data": {"name": "okh"}, "mark": {"type": "line"},
     "encoding": {
      "x": {"field": "m", "type": "quantitative", "scale": {"domain": [0, 12], "nice": false, "zero": false}, "axis": {"title": null, "grid": false, "ticks": false, "labelPadding": 1, "labelOverlap": false, "values": [0.5,1.5,2.5,3.5,4.5,5.5,6.5,7.5,8.5,9.5,10.5,11.5], "labelExpr": "['J','F','M','A','M','J','J','A','S','O','N','D'][floor(datum.value)]"}},
      "y": {"field": "v", "type": "quantitative", "scale": {"domain": [-28, 28], "nice": false}, "axis": {"title": null, "values": [-28,-21,-14,-7,0,7,14,21,28], "labelExpr": "datum.value % 14 ? '' : (datum.value < 0 ? '−' + (-datum.value) : datum.value) + '.'", "gridOpacity": {"condition": {"test": "abs(datum.value) == 28", "value": 0}, "value": 1}}},
      "color": {"field": "s", "type": "nominal", "scale": {"domain": ["c", "a"], "range": ["#ff0000", "#0000ff"]}, "legend": {"title": null, "labelExpr": "datum.value == 'c' ? 'cross-shore volume transport' : 'alongshore volume transport'"}}
     }},
    {"data": {"values": [{"r": "R=−0.21"}]}, "mark": {"type": "text", "align": "right", "baseline": "middle", "font": "DejaVu Sans", "fontSize": 13.5, "color": "black"},
     "encoding": {"x": {"datum": 10.7, "type": "quantitative", "axis": {"orient": "top", "title": null, "values": [1,2,3,4,5,6,7,8,9,10,11], "labels": false, "grid": true, "gridDash": [4, 2], "tickSize": -4}}, "y": {"datum": 23, "type": "quantitative", "axis": {"orient": "right", "title": null, "values": [-21,-14,-7,0,7,14,21], "labels": false, "grid": false}}, "text": {"field": "r"}}}
   ],
   "resolve": {"axis": {"x": "independent", "y": "independent"}}
  },
  {"width": 400, "height": 191, "title": "Mumbai",
   "layer": [
    {"data": {"name": "mum"}, "mark": {"type": "line"},
     "encoding": {
      "x": {"field": "m", "type": "quantitative", "scale": {"domain": [0, 12], "nice": false, "zero": false}, "axis": {"title": null, "grid": false, "ticks": false, "labelPadding": 1, "labelOverlap": false, "values": [0.5,1.5,2.5,3.5,4.5,5.5,6.5,7.5,8.5,9.5,10.5,11.5], "labelExpr": "['J','F','M','A','M','J','J','A','S','O','N','D'][floor(datum.value)]"}},
      "y": {"field": "v", "type": "quantitative", "scale": {"domain": [-28, 28], "nice": false}, "axis": {"title": null, "values": [-28,-21,-14,-7,0,7,14,21,28], "labelExpr": "datum.value % 14 ? '' : (datum.value < 0 ? '−' + (-datum.value) : datum.value) + '.'", "gridOpacity": {"condition": {"test": "abs(datum.value) == 28", "value": 0}, "value": 1}}},
      "color": {"field": "s", "type": "nominal", "scale": {"domain": ["c", "a"], "range": ["#ff0000", "#0000ff"]}, "legend": {"title": null, "labelExpr": "datum.value == 'c' ? 'cross-shore volume transport' : 'alongshore volume transport'"}}
     }},
    {"data": {"values": [{"r": "R=−0.53"}]}, "mark": {"type": "text", "align": "right", "baseline": "middle", "font": "DejaVu Sans", "fontSize": 13.5, "color": "black"},
     "encoding": {"x": {"datum": 11.72, "type": "quantitative", "axis": {"orient": "top", "title": null, "values": [1,2,3,4,5,6,7,8,9,10,11], "labels": false, "grid": true, "gridDash": [4, 2], "tickSize": -4}}, "y": {"datum": 23, "type": "quantitative", "axis": {"orient": "right", "title": null, "values": [-21,-14,-7,0,7,14,21], "labels": false, "grid": false}}, "text": {"field": "r"}}}
   ],
   "resolve": {"axis": {"x": "independent", "y": "independent"}}
  },
  {"width": 400, "height": 191, "title": "Goa",
   "layer": [
    {"data": {"name": "goa"}, "mark": {"type": "line"},
     "encoding": {
      "x": {"field": "m", "type": "quantitative", "scale": {"domain": [0, 12], "nice": false, "zero": false}, "axis": {"title": null, "grid": false, "ticks": false, "labelPadding": 1, "labelOverlap": false, "values": [0.5,1.5,2.5,3.5,4.5,5.5,6.5,7.5,8.5,9.5,10.5,11.5], "labelExpr": "['J','F','M','A','M','J','J','A','S','O','N','D'][floor(datum.value)]"}},
      "y": {"field": "v", "type": "quantitative", "scale": {"domain": [-28, 28], "nice": false}, "axis": {"title": null, "values": [-28,-21,-14,-7,0,7,14,21,28], "labelExpr": "datum.value % 14 ? '' : (datum.value < 0 ? '−' + (-datum.value) : datum.value) + '.'", "gridOpacity": {"condition": {"test": "abs(datum.value) == 28", "value": 0}, "value": 1}}},
      "color": {"field": "s", "type": "nominal", "scale": {"domain": ["c", "a"], "range": ["#ff0000", "#0000ff"]}, "legend": {"title": null, "labelExpr": "datum.value == 'c' ? 'cross-shore volume transport' : 'alongshore volume transport'"}}
     }},
    {"data": {"values": [{"r": "R=−0.01"}]}, "mark": {"type": "text", "align": "right", "baseline": "middle", "font": "DejaVu Sans", "fontSize": 13.5, "color": "black"},
     "encoding": {"x": {"datum": 11.66, "type": "quantitative", "axis": {"orient": "top", "title": null, "values": [1,2,3,4,5,6,7,8,9,10,11], "labels": false, "grid": true, "gridDash": [4, 2], "tickSize": -4}}, "y": {"datum": 23, "type": "quantitative", "axis": {"orient": "right", "title": null, "values": [-21,-14,-7,0,7,14,21], "labels": false, "grid": false}}, "text": {"field": "r"}}}
   ],
   "resolve": {"axis": {"x": "independent", "y": "independent"}}
  }
 ]
},
{"title": {"text": "Off Southern Coast of India and Eastern Sri Lanka →", "anchor": "start", "color": "#0000ff", "fontSize": 19, "offset": 1, "dx": 20},
 "spacing": 15,
 "hconcat": [
  {"width": 400, "height": 191, "title": "Kollam",
   "layer": [
    {"data": {"name": "kol"}, "mark": {"type": "line"},
     "encoding": {
      "x": {"field": "m", "type": "quantitative", "scale": {"domain": [0, 12], "nice": false, "zero": false}, "axis": {"title": null, "grid": false, "ticks": false, "labelPadding": 1, "labelOverlap": false, "values": [0.5,1.5,2.5,3.5,4.5,5.5,6.5,7.5,8.5,9.5,10.5,11.5], "labelExpr": "['J','F','M','A','M','J','J','A','S','O','N','D'][floor(datum.value)]"}},
      "y": {"field": "v", "type": "quantitative", "scale": {"domain": [-28, 28], "nice": false}, "axis": {"title": null, "values": [-28,-21,-14,-7,0,7,14,21,28], "labelExpr": "datum.value % 14 ? '' : (datum.value < 0 ? '−' + (-datum.value) : datum.value) + '.'", "gridOpacity": {"condition": {"test": "abs(datum.value) == 28", "value": 0}, "value": 1}}},
      "color": {"field": "s", "type": "nominal", "scale": {"domain": ["c", "a"], "range": ["#ff0000", "#0000ff"]}, "legend": {"title": null, "labelExpr": "datum.value == 'c' ? 'cross-shore volume transport' : 'alongshore volume transport'"}}
     }},
    {"data": {"values": [{"r": "R=−0.58"}]}, "mark": {"type": "text", "align": "right", "baseline": "middle", "font": "DejaVu Sans", "fontSize": 13.5, "color": "black"},
     "encoding": {"x": {"datum": 10.86, "type": "quantitative", "axis": {"orient": "top", "title": null, "values": [1,2,3,4,5,6,7,8,9,10,11], "labels": false, "grid": true, "tickSize": -4}}, "y": {"datum": 23, "type": "quantitative", "axis": {"orient": "right", "title": null, "values": [-21,-14,-7,0,7,14,21], "labels": false, "grid": false}}, "text": {"field": "r"}}}
   ],
   "resolve": {"axis": {"x": "independent", "y": "independent"}}
  },
  {"width": 400, "height": 191, "title": "Kanyakumari",
   "layer": [
    {"data": {"name": "kan"}, "mark": {"type": "line"},
     "encoding": {
      "x": {"field": "m", "type": "quantitative", "scale": {"domain": [0, 12], "nice": false, "zero": false}, "axis": {"title": null, "grid": false, "ticks": false, "labelPadding": 1, "labelOverlap": false, "values": [0.5,1.5,2.5,3.5,4.5,5.5,6.5,7.5,8.5,9.5,10.5,11.5], "labelExpr": "['J','F','M','A','M','J','J','A','S','O','N','D'][floor(datum.value)]"}},
      "y": {"field": "v", "type": "quantitative", "scale": {"domain": [-28, 28], "nice": false}, "axis": {"title": null, "values": [-28,-21,-14,-7,0,7,14,21,28], "labelExpr": "datum.value % 14 ? '' : (datum.value < 0 ? '−' + (-datum.value) : datum.value) + '.'", "gridOpacity": {"condition": {"test": "abs(datum.value) == 28", "value": 0}, "value": 1}}},
      "color": {"field": "s", "type": "nominal", "scale": {"domain": ["c", "a"], "range": ["#ff0000", "#0000ff"]}, "legend": {"title": null, "labelExpr": "datum.value == 'c' ? 'cross-shore volume transport' : 'alongshore volume transport'"}}
     }},
    {"data": {"values": [{"r": "R=−0.46"}]}, "mark": {"type": "text", "align": "right", "baseline": "middle", "font": "DejaVu Sans", "fontSize": 13.5, "color": "black"},
     "encoding": {"x": {"datum": 11.7, "type": "quantitative", "axis": {"orient": "top", "title": null, "values": [1,2,3,4,5,6,7,8,9,10,11], "labels": false, "grid": true, "tickSize": -4}}, "y": {"datum": 23, "type": "quantitative", "axis": {"orient": "right", "title": null, "values": [-21,-14,-7,0,7,14,21], "labels": false, "grid": false}}, "text": {"field": "r"}}}
   ],
   "resolve": {"axis": {"x": "independent", "y": "independent"}}
  },
  {"width": 400, "height": 191, "title": "Sri Lanka",
   "layer": [
    {"data": {"name": "sri"}, "mark": {"type": "line"},
     "encoding": {
      "x": {"field": "m", "type": "quantitative", "scale": {"domain": [0, 12], "nice": false, "zero": false}, "axis": {"title": null, "grid": false, "ticks": false, "labelPadding": 1, "labelOverlap": false, "values": [0.5,1.5,2.5,3.5,4.5,5.5,6.5,7.5,8.5,9.5,10.5,11.5], "labelExpr": "['J','F','M','A','M','J','J','A','S','O','N','D'][floor(datum.value)]"}},
      "y": {"field": "v", "type": "quantitative", "scale": {"domain": [-28, 28], "nice": false}, "axis": {"title": null, "values": [-28,-21,-14,-7,0,7,14,21,28], "labelExpr": "datum.value % 14 ? '' : (datum.value < 0 ? '−' + (-datum.value) : datum.value) + '.'", "gridOpacity": {"condition": {"test": "abs(datum.value) == 28", "value": 0}, "value": 1}}},
      "color": {"field": "s", "type": "nominal", "scale": {"domain": ["c", "a"], "range": ["#ff0000", "#0000ff"]}, "legend": {"title": null, "labelExpr": "datum.value == 'c' ? 'cross-shore volume transport' : 'alongshore volume transport'"}}
     }},
    {"data": {"values": [{"r": "R=0.85"}]}, "mark": {"type": "text", "align": "right", "baseline": "middle", "font": "DejaVu Sans", "fontSize": 13.5, "color": "black"},
     "encoding": {"x": {"datum": 11.49, "type": "quantitative", "axis": {"orient": "top", "title": null, "values": [1,2,3,4,5,6,7,8,9,10,11], "labels": false, "grid": true, "tickSize": -4}}, "y": {"datum": 23, "type": "quantitative", "axis": {"orient": "right", "title": null, "values": [-21,-14,-7,0,7,14,21], "labels": false, "grid": false}}, "text": {"field": "r"}}}
   ],
   "resolve": {"axis": {"x": "independent", "y": "independent"}}
  }
 ]
}
]
}
